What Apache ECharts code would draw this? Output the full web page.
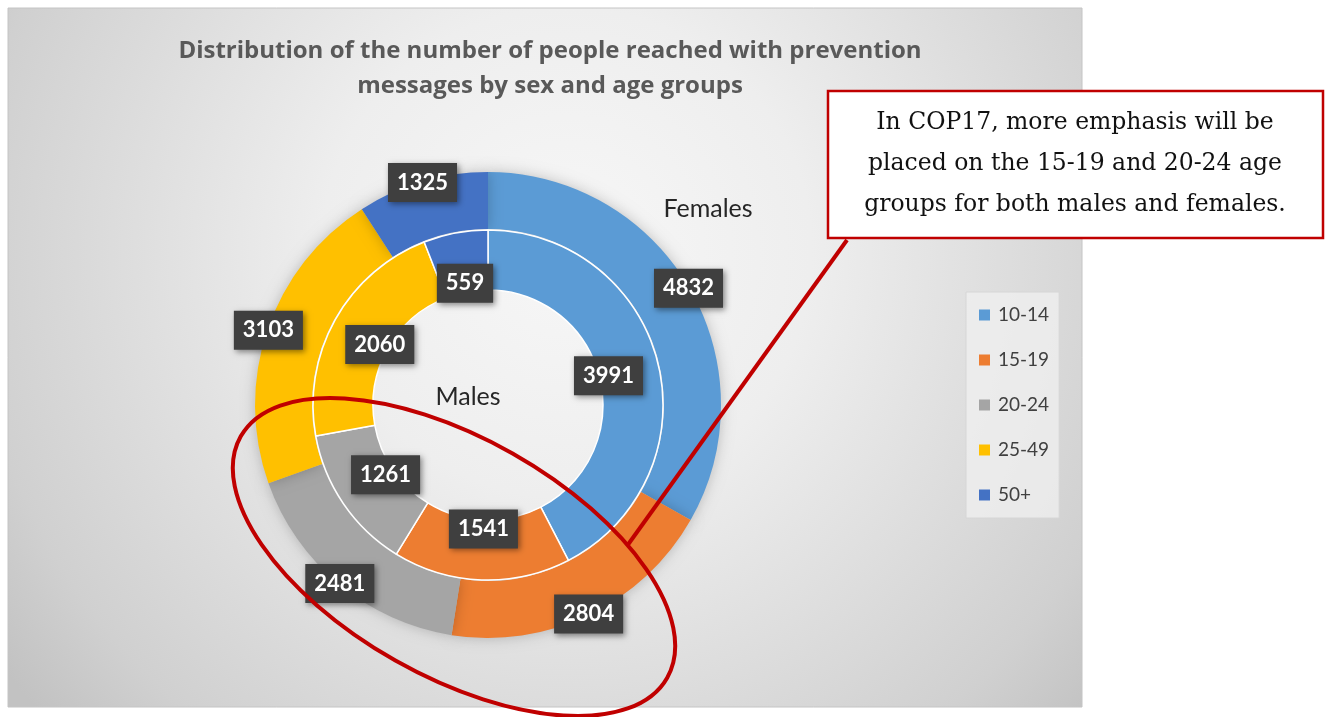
<!DOCTYPE html>
<html>
<head>
<meta charset="utf-8">
<script src="https://cdn.jsdelivr.net/npm/echarts@6/dist/echarts.min.js"></script>
<style>
html,body{margin:0;padding:0;background:#fff;}
#c{width:1326px;height:717px;}
</style>
</head>
<body>
<div id="c"></div>
<script>
const categories = ['10-14', '15-19', '20-24', '25-49', '50+'];
const females = [4832, 2804, 2481, 3103, 1325];
const males = [3991, 1541, 1261, 2060, 559];
const colors = ['#5B9BD5', '#ED7D31', '#A5A5A5', '#FFC000', '#4472C4'];
const titleText = 'Distribution of the number of people reached with prevention\nmessages by sex and age groups';
const calloutText = 'In COP17, more emphasis will be\nplaced on the 15-19 and 20-24 age\ngroups for both males and females.';
const ringNames = ['Females', 'Males'];

const CX = 488, CY = 405;
const chart = echarts.init(document.getElementById('c'), null, {renderer: 'canvas'});

function radialLayout(target) {
  return function (params) {
    const r = params.labelRect;
    const lx = r.x + r.width / 2, ly = r.y + r.height / 2;
    const dx = lx - CX, dy = ly - CY;
    const d = Math.hypot(dx, dy) || 1;
    return {x: CX + dx / d * target, y: CY + dy / d * target};
  };
}

const labelStyle = {
  show: true,
  position: 'inside',
  formatter: '{c}',
  color: '#ffffff',
  fontFamily: 'Lato',
  fontWeight: 'bold',
  fontSize: 22,
  backgroundColor: '#3f3f3f',
  padding: [9, 9, 8, 9],
  shadowBlur: 6,
  shadowColor: 'rgba(0,0,0,0.45)',
  shadowOffsetX: 2,
  shadowOffsetY: 2
};

const option = {
  animation: false,
  color: colors,
  title: {
    text: titleText,
    left: 545,
    top: 29,
    textAlign: 'center',
    textStyle: {
      fontFamily: 'Open Sans',
      fontWeight: 'bold',
      fontSize: 24,
      color: '#595959',
      lineHeight: 35
    }
  },
  legend: {
    data: categories,
    orient: 'vertical',
    left: 966,
    top: 292,
    padding: [13, 10, 13, 13],
    itemGap: 25,
    itemWidth: 11,
    itemHeight: 11,
    icon: 'rect',
    backgroundColor: 'rgba(240,240,240,0.75)',
    borderColor: '#d6d6d6',
    borderWidth: 1,
    textStyle: {
      fontFamily: 'Lato',
      fontSize: 19,
      color: '#404040',
      lineHeight: 20,
      padding: [0, 0, 0, 3]
    }
  },
  graphic: [
    {
      type: 'rect',
      z: -10,
      silent: true,
      shape: {x: 8, y: 8, width: 1074, height: 699},
      style: {
        fill: {
          type: 'radial', x: 0.52, y: 0.35, r: 1.0,
          colorStops: [
            {offset: 0, color: '#f7f7f7'},
            {offset: 0.35, color: '#eeeeee'},
            {offset: 0.6, color: '#dfdfdf'},
            {offset: 0.85, color: '#d0d0d0'},
            {offset: 1, color: '#c2c2c2'}
          ]
        },
        stroke: '#c4c4c4',
        lineWidth: 1
      }
    },
    {
      type: 'text',
      z: 10,
      silent: true,
      x: 708, y: 209,
      style: {
        text: ringNames[0],
        font: '25px Lato',
        fill: '#262626',
        align: 'center',
        verticalAlign: 'middle'
      }
    },
    {
      type: 'text',
      z: 10,
      silent: true,
      x: 468, y: 397,
      style: {
        text: ringNames[1],
        font: '25px Lato',
        fill: '#262626',
        align: 'center',
        verticalAlign: 'middle'
      }
    },
    {
      type: 'ellipse',
      z: 50,
      silent: true,
      x: 454, y: 557,
      rotation: -29.5 * Math.PI / 180,
      shape: {cx: 0, cy: 0, rx: 245, ry: 119},
      style: {fill: null, stroke: '#C00000', lineWidth: 4}
    },
    {
      type: 'line',
      z: 50,
      silent: true,
      shape: {x1: 847, y1: 240, x2: 627, y2: 546},
      style: {stroke: '#C00000', lineWidth: 4}
    },
    {
      type: 'rect',
      z: 60,
      silent: true,
      shape: {x: 828, y: 91, width: 495, height: 147},
      style: {fill: '#ffffff', stroke: '#C00000', lineWidth: 2.5}
    },
    {
      type: 'text',
      z: 61,
      silent: true,
      x: 1075, y: 164,
      style: {
        text: calloutText,
        font: '23.5px "DejaVu Serif"',
        fill: '#111111',
        align: 'center',
        verticalAlign: 'middle',
        lineHeight: 41
      }
    }
  ],
  series: [
    {
      name: ringNames[0],
      type: 'pie',
      center: [CX, CY],
      radius: [176, 233],
      startAngle: 90,
      clockwise: true,
      avoidLabelOverlap: false,
      z: 2,
      itemStyle: {
        borderWidth: 0,
        shadowBlur: 14,
        shadowColor: 'rgba(0,0,0,0.22)'
      },
      label: labelStyle,
      labelLine: {show: false},
      labelLayout: radialLayout(232),
      emphasis: {disabled: true},
      data: categories.map((c, i) => ({name: c, value: females[i]}))
    },
    {
      name: ringNames[1],
      type: 'pie',
      center: [CX, CY],
      radius: [115, 175],
      startAngle: 90,
      clockwise: true,
      avoidLabelOverlap: false,
      z: 3,
      itemStyle: {
        borderColor: '#ffffff',
        borderWidth: 1.5
      },
      label: labelStyle,
      labelLine: {show: false},
      labelLayout: radialLayout(124),
      emphasis: {disabled: true},
      data: categories.map((c, i) => ({name: c, value: males[i]}))
    }
  ]
};
chart.setOption(option);
</script>
</body>
</html>
